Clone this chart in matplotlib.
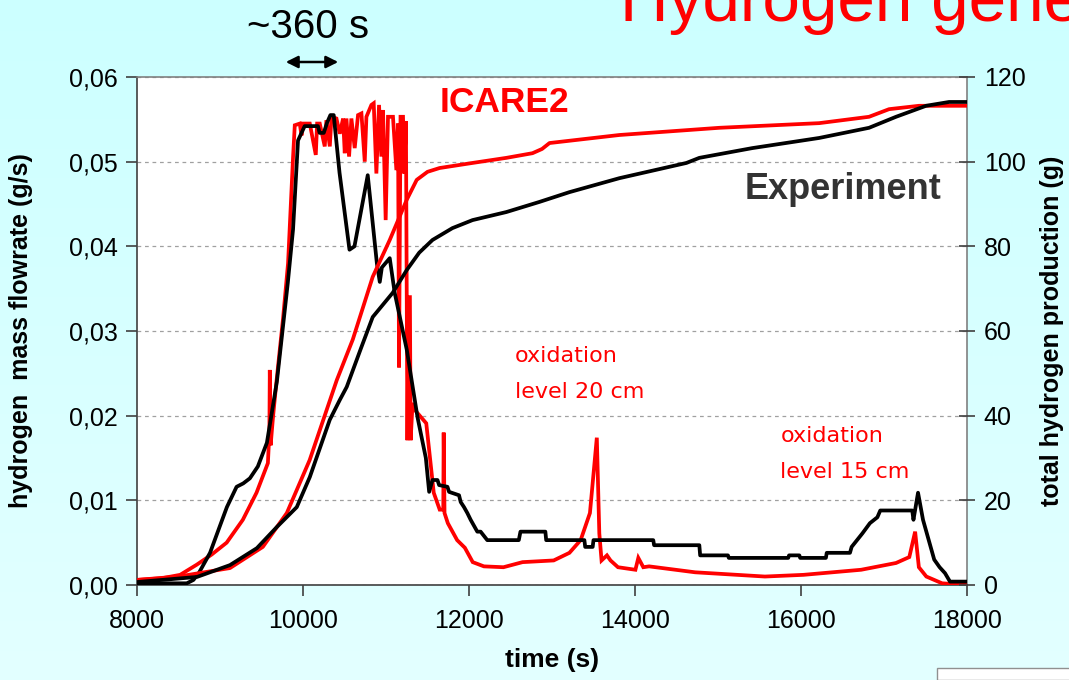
import numpy as np
import matplotlib
matplotlib.use('Agg')
import matplotlib.pyplot as plt
from matplotlib.patches import Rectangle, FancyArrowPatch
from matplotlib.ticker import FuncFormatter

# hydrogen mass flowrate (g/s), experiment
exp_flow_t = [8000, 8600, 8680, 8750, 8880, 9000, 9083, 9200, 9280, 9360, 9456, 9565, 9685, 9817,
              9880, 9940, 10020, 10180, 10200, 10250, 10290, 10330, 10370, 10440, 10560, 10620,
              10780, 10890, 10925, 10950, 11045, 11105, 11250, 11380, 11480, 11520, 11560, 11620,
              11640, 11740, 11760, 11880, 11900, 11940, 11980, 12020, 12060, 12100, 12140, 12180,
              12220, 12600, 12620, 12920, 12930, 13390, 13400, 13490,
              13500, 14220, 14230, 14775, 14785, 15120, 15130, 15846, 15856, 15980, 15990, 16300,
              16310, 16590, 16610, 16740, 16830, 16920, 16955, 17340, 17355, 17410, 17470, 17605,
              17670, 17735, 17795, 18000]
exp_flow_v = [0.0002, 0.0002, 0.0006, 0.0015, 0.0038, 0.0070, 0.0092, 0.0116, 0.0120, 0.0126,
              0.0140, 0.0168, 0.0240, 0.0357, 0.0420, 0.0525, 0.0542, 0.0542, 0.0534, 0.0534,
              0.0546, 0.0555, 0.0555, 0.0487, 0.0396, 0.0400, 0.0484, 0.0380, 0.0358, 0.0375,
              0.0386, 0.0345, 0.0278, 0.0198, 0.0150, 0.0110, 0.0124, 0.0124,
              0.0118, 0.0116, 0.0110, 0.0106, 0.0098, 0.0092, 0.0085, 0.0077, 0.0070, 0.0063,
              0.0063, 0.0058, 0.0053, 0.0053, 0.0063, 0.0063, 0.0053, 0.0053, 0.0045, 0.0045,
              0.0053, 0.0053, 0.0047, 0.0047, 0.0035, 0.0035, 0.0032, 0.0032, 0.0035, 0.0035,
              0.0032, 0.0032, 0.0038, 0.0038, 0.0045, 0.0061, 0.0073, 0.0080, 0.0088, 0.0088,
              0.0077, 0.0109, 0.0077, 0.0030, 0.0021, 0.0014, 0.0004, 0.0004]

# hydrogen mass flowrate (g/s), ICARE2
icare_flow_t = [8000, 8300, 8520, 8720, 8900, 9080, 9275, 9440, 9577, 9595, 9600, 9610, 9640, 9680,
                9760, 9820, 9880, 9901, 9961, 9982, 10001, 10082, 10154, 10170, 10202, 10262,
                10282, 10323, 10343, 10403, 10443, 10483, 10503, 10523, 10555, 10583, 10623,
                10663, 10704, 10744, 10764, 10824, 10852, 10884, 10916, 10944, 10964, 10996,
                11024, 11084, 11125, 11145, 11157, 11175, 11205, 11220, 11240, 11258, 11272,
                11288, 11297, 11320, 11345, 11485, 11550, 11575, 11647, 11690, 11695, 11705,
                11745, 11857, 11950, 12045, 12180, 12415, 12645, 13020, 13210, 13345, 13457,
                13540, 13570, 13597, 13662, 13705, 13795, 14005, 14040, 14100, 14170, 14725,
                15565, 16030, 16725, 17145, 17305, 17375, 17420, 17510, 17700, 18000]
icare_flow_v = [0.0006, 0.0008, 0.0012, 0.0024, 0.0036, 0.0050, 0.0077, 0.0109, 0.0144, 0.0180,
                0.0254, 0.0165, 0.0200, 0.0240, 0.0315, 0.0380, 0.0505, 0.0543, 0.0545, 0.0531,
                0.0545, 0.0545, 0.0508, 0.0545, 0.0545, 0.0518, 0.0549, 0.0518, 0.0553, 0.0551,
                0.0533, 0.0551, 0.0510, 0.0551, 0.0506, 0.0551, 0.0516, 0.0555, 0.0557, 0.0500,
                0.0553, 0.0567, 0.0569, 0.0486, 0.0567, 0.0506, 0.0561, 0.0431, 0.0553, 0.0553,
                0.0490, 0.0545, 0.0257, 0.0553, 0.0553, 0.0486, 0.0548, 0.0171, 0.0340, 0.0340,
                0.0171, 0.0215, 0.0207, 0.0191, 0.0132, 0.0109, 0.0089, 0.0089, 0.0180, 0.0085,
                0.0073, 0.0053, 0.0044, 0.0027, 0.0022, 0.0021, 0.0027, 0.0029, 0.0038, 0.0053,
                0.0085, 0.0174, 0.0061, 0.0029, 0.0035, 0.0029, 0.0021, 0.0018, 0.0032, 0.0021,
                0.0022, 0.0015, 0.0010, 0.0012, 0.0018, 0.0026, 0.0033, 0.0063, 0.0021, 0.0010,
                0.0002, 0.0000]

# total hydrogen production (g)
icare_tot_t = [8000, 8500, 9120, 9516, 9805, 10080, 10407, 10600, 10840, 11045, 11250, 11370, 11500,
               11646, 12043, 12450, 12765, 12880, 12970, 13812, 15016, 16219, 16820, 17061, 17422, 18000]
icare_tot_g = [1.2, 2.0, 4.0, 9.0, 17.0, 29.5, 48.4, 58.0, 72.8, 81.5, 91.0, 95.7, 97.6,
               98.5, 99.7, 100.9, 102.0, 103.0, 104.4, 106.3, 108.0, 109.1, 110.6, 112.4, 113.2, 113.2]
exp_tot_t = [8000, 8722, 9120, 9444, 9685, 9925, 10082, 10322, 10443, 10527, 10700, 10840, 11080,
             11250, 11400, 11560, 11800, 12043, 12450, 12850, 13210, 13812, 14620, 14775, 15412,
             16219, 16820, 17145, 17507, 17784, 18000]
exp_tot_g = [0.7, 1.9, 4.7, 8.7, 13.7, 18.4, 25.5, 39.0, 43.7, 46.8, 56.0, 63.3, 69.0,
             74.4, 78.5, 81.5, 84.3, 86.2, 88.1, 90.5, 92.8, 96.1, 99.7, 100.9, 103.2,
             105.6, 108.0, 110.6, 113.2, 114.1, 114.1]

xticks = [8000, 10000, 12000, 14000, 16000, 18000]
yticks_left = [0.00, 0.01, 0.02, 0.03, 0.04, 0.05, 0.06]
yticks_right = [0, 20, 40, 60, 80, 100, 120]

plt.rcParams['font.family'] = ['Liberation Sans', 'DejaVu Sans']
RED = '#ff0000'

fig = plt.figure(figsize=(10.69, 6.8), dpi=100)

# slide background, light cyan gradient
bg = fig.add_axes([0, 0, 1, 1], zorder=-10)
grad = np.linspace(0, 1, 256).reshape(-1, 1)
top_c = np.array([0.80, 1.0, 1.0])
bot_c = np.array([0.89, 1.0, 1.0])
img = top_c[None, None, :] * (1 - grad[:, :, None]) + bot_c[None, None, :] * grad[:, :, None]
bg.imshow(img, aspect='auto', extent=[0, 1, 0, 1])
bg.axis('off')

ax = fig.add_axes([137 / 1069, 95 / 680, 830 / 1069, 508 / 680])
ax.set_facecolor('white')
ax.plot(icare_flow_t, icare_flow_v, color=RED, lw=2.7, solid_joinstyle='miter', zorder=3)
ax.plot(exp_flow_t, exp_flow_v, color='black', lw=2.7, zorder=4)
ax.set_xlim(8000, 18000)
ax.set_ylim(0, 0.06)
ax.set_xticks(xticks)
ax.set_yticks(yticks_left)
ax.yaxis.set_major_formatter(FuncFormatter(lambda v, p: ('%.2f' % v).replace('.', ',')))
ax.grid(axis='y', color='#a0a0a0', linestyle=(0, (3, 3)), lw=0.9)
ax.tick_params(axis='both', labelsize=18, direction='out', length=8, width=1.2, color='#404040')
ax.tick_params(axis='x', pad=9)
ax.tick_params(axis='y', pad=6)
for s in ['left', 'bottom']:
    ax.spines[s].set_color('#404040')
    ax.spines[s].set_linewidth(1.2)
for s in ['top', 'right']:
    ax.spines[s].set_color('#808080')
    ax.spines[s].set_linewidth(1.2)
ax.set_xlabel('time (s)', fontsize=19, fontweight='bold')
ax.xaxis.set_label_coords(0.5, -0.125)
ax.set_ylabel('hydrogen  mass flowrate (g/s)', fontsize=18, fontweight='bold')
ax.yaxis.set_label_coords(-0.125, 0.5)

ax2 = ax.twinx()
ax2.plot(icare_tot_t, icare_tot_g, color=RED, lw=2.7, zorder=3)
ax2.plot(exp_tot_t, exp_tot_g, color='black', lw=2.7, zorder=4)
ax2.set_ylim(0, 120)
ax2.set_yticks(yticks_right)
ax2.tick_params(axis='y', labelsize=18, direction='inout', length=12, width=1.2, color='#404040', pad=6)
for s in ax2.spines.values():
    s.set_visible(False)
ax2.set_ylabel('total hydrogen production (g)', fontsize=18, fontweight='bold')
ax2.yaxis.set_label_coords(1.088, 0.5)

# annotations
ax.text(0.365, 0.949, 'ICARE2', transform=ax.transAxes, color=RED, fontsize=25.5,
        fontweight='bold', va='center', ha='left')
ax.text(0.7325, 0.779, 'Experiment', transform=ax.transAxes, color='#333333', fontsize=26,
        fontweight='bold', va='center', ha='left')
ax.text(0.455, 0.450, 'oxidation', transform=ax.transAxes, color=RED, fontsize=16,
        family='DejaVu Sans', va='center', ha='left')
ax.text(0.455, 0.380, 'level 20 cm', transform=ax.transAxes, color=RED, fontsize=16,
        family='DejaVu Sans', va='center', ha='left')
ax.text(0.775, 0.293, 'oxidation', transform=ax.transAxes, color=RED, fontsize=16,
        family='DejaVu Sans', va='center', ha='left')
ax.text(0.775, 0.222, 'level 15 cm', transform=ax.transAxes, color=RED, fontsize=16,
        family='DejaVu Sans', va='center', ha='left')

# slide title (cut off at the top, as in the slide) and the ~360 s marker
fig.text(620 / 1069, 1 - 21 / 680, 'Hydrogen generation', color=RED, fontsize=48.5,
         va='baseline', ha='left')
fig.text(308 / 1069, 1 - 27 / 680, '~360 s', color='black', fontsize=29, va='center', ha='center')
fig.patches.append(FancyArrowPatch(
    (283 / 1069, 1 - 62 / 680), (341 / 1069, 1 - 62 / 680), transform=fig.transFigure,
    arrowstyle='<|-|>', mutation_scale=18, color='black', lw=1.8))

fig.patches.append(Rectangle((937 / 1069, 0), 140 / 1069, 12 / 680, transform=fig.transFigure,
                             facecolor='white', edgecolor='#909090', lw=1))

fig.savefig('out.png', dpi=100)
